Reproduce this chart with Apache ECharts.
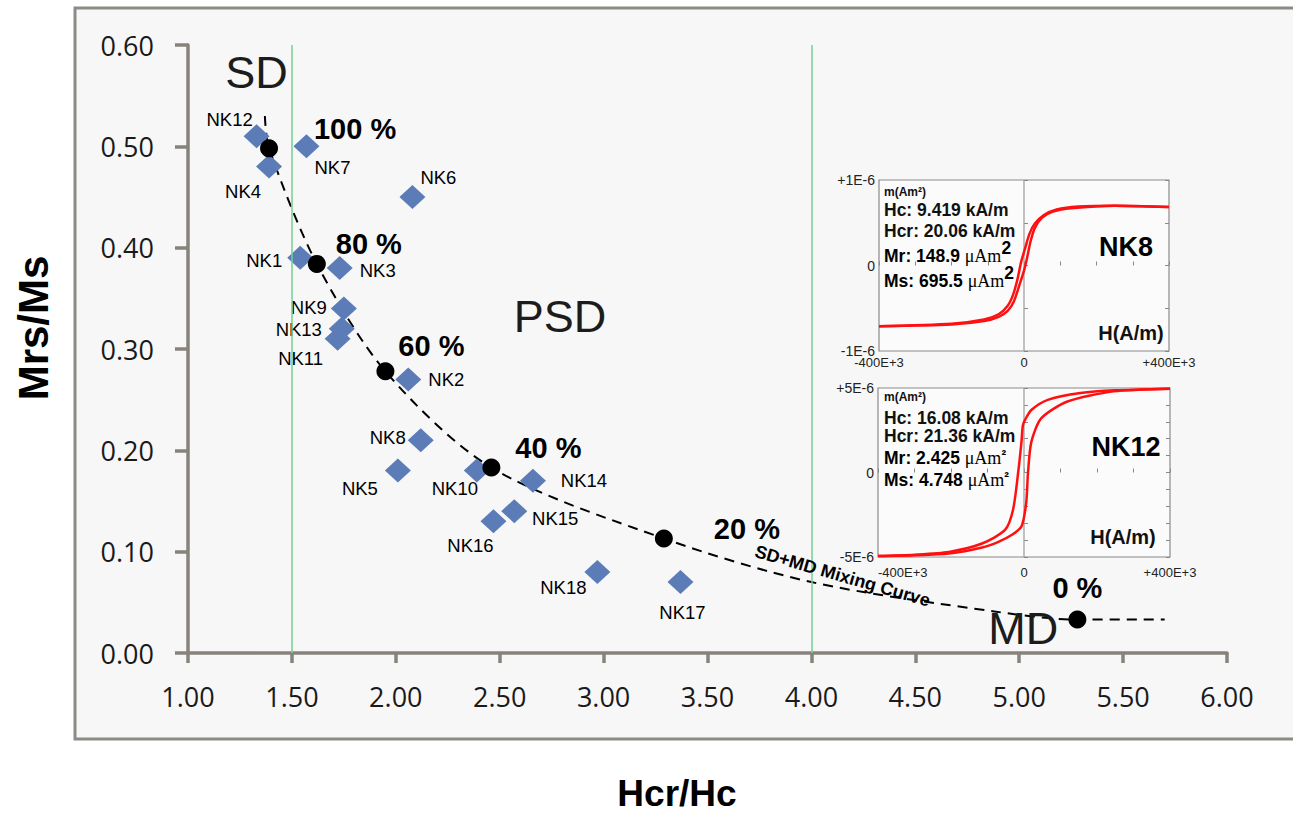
<!DOCTYPE html>
<html><head><meta charset="utf-8">
<script src="https://cdn.jsdelivr.net/npm/echarts@6/dist/echarts.min.js"></script>
<style>html,body{margin:0;padding:0;background:#fff;}#c{width:1293px;height:813px;}</style>
</head><body><div id="c"></div>
<script>
// ---------------- DATA ----------------
const sampleNames = ['NK1','NK2','NK3','NK4','NK5','NK6','NK7','NK8','NK9','NK10','NK11','NK12','NK13','NK14','NK15','NK16','NK17','NK18'];
const sampleHcrHc = [1.54,2.06,1.73,1.39,2.01,2.08,1.57,2.12,1.75,2.39,1.72,1.33,1.74,2.66,2.57,2.47,3.37,2.97];
const sampleMrsMs = [0.39,0.27,0.38,0.48,0.18,0.45,0.50,0.21,0.34,0.18,0.31,0.51,0.32,0.17,0.14,0.13,0.07,0.08];

const mixPercentLabels = ['100 %','80 %','60 %','40 %','20 %','0 %'];
const mixDotHcrHc = [1.39,1.62,1.95,2.46,3.29,5.28];
const mixDotMrsMs = [0.498,0.384,0.278,0.183,0.113,0.033];
const mixCurveHcrHc = [1.37,1.39,1.62,1.95,2.46,3.29,4.00,4.88,5.28,5.70];
const mixCurveMrsMs = [0.53,0.498,0.384,0.278,0.183,0.113,0.070,0.041,0.033,0.033];

const boundaryMrsMs = [0.50, 0.05];
const boundaryHcrHc = [1.5, 4.0];

const regionNames = ['SD','PSD','MD'];
const regionHcrHc = [1.33, 2.79, 5.02];
const regionMrsMs = [0.573, 0.332, 0.024];
const curveCaption = 'SD+MD Mixing Curve';
const curveCaptionAt = [4.15, 0.076];

const xTitle = 'Hcr/Hc';
const yTitle = 'Mrs/Ms';

// NK8 hysteresis loop (H in kA/m, m in 1E-6 Am2)
const nk8UpperH = [400,250,150,90,55,30,15,3,-8,-18,-30,-45,-70,-110,-200,-400];
const nk8UpperM = [0.685,0.70,0.69,0.655,0.59,0.49,0.37,0.20,0.04,-0.16,-0.34,-0.47,-0.57,-0.63,-0.68,-0.71];
const nk8LowerH = [-400,-200,-110,-70,-45,-28,-12,0,8,18,30,50,80,130,250,400];
const nk8LowerM = [-0.71,-0.69,-0.65,-0.60,-0.53,-0.42,-0.22,-0.06,0.08,0.28,0.44,0.56,0.63,0.67,0.70,0.685];
// NK12 hysteresis loop
const nk12UpperH = [400,250,155,65,20,5,-3,-7,-16,-30,-52,-115,-206,-300,-400];
const nk12UpperM = [4.96,4.86,4.70,4.30,3.70,3.20,2.80,1.80,0,-2.20,-3.40,-4.20,-4.70,-4.86,-4.94];
const nk12LowerH = [-400,-296,-206,-115,-70,-34,-7,6,11,20,47,119,245,400];
const nk12LowerM = [-4.94,-4.90,-4.80,-4.44,-4.10,-3.70,-3.20,-1.80,0,1.80,3.20,4.20,4.80,4.96];

const nk8Info = ['m(Am²)','Hc: 9.419 kA/m','Hcr: 20.06 kA/m',['Mr: 148.9 ','μAm','2'],['Ms: 695.5 ','μAm','2'],'NK8','H(A/m)'];
const nk12Info = ['m(Am²)','Hc: 16.08 kA/m','Hcr: 21.36 kA/m',['Mr: 2.425 ','μAm','²'],['Ms: 4.748 ','μAm','²'],'NK12','H(A/m)'];

// ---------------- LAYOUT / STYLE ----------------
const F = 'Liberation Sans, Arial, sans-serif';
const sampleLabelOffsets = {
  NK1:[-36,3],NK2:[38,0],NK3:[38,3],NK4:[-26,25],NK5:[-38,18],NK6:[26,-20],NK7:[26,21],NK8:[-33,-3],
  NK9:[-35,-1],NK10:[-22,18],NK11:[-37,20],NK12:[-27,-17],NK13:[-43,1],NK14:[51,0],NK15:[41,7],
  NK16:[-23,24],NK17:[2,30],NK18:[-34,16]
};
const pctLabelOffsets = [[86,-19],[52,-20],[46,-25],[57,-20],[83,-9],[0,-32]];
const zip = (a,b) => a.map((v,i)=>[v,b[i]]);

const chart = echarts.init(document.getElementById('c'), null, {renderer:'svg'});
const axisCol = '#87827c';

function insetAxes(gi, ymax, yint, xMargin, alignMin) {
  const xl = v => v === -400 ? '-400E+3' : (v === 0 ? '0' : (v === 400 ? '+400E+3' : ''));
  const yl = v => v === ymax ? '+' + ymax + 'E-6' : (v === -ymax ? '-' + ymax + 'E-6' : (v === 0 ? '0' : ''));
  return {
    x: {type:'value', gridIndex:gi, min:-400, max:400, interval:100,
        axisLine:{show:false}, splitLine:{show:false},
        axisTick:{inside:true, length:4, lineStyle:{color:'#888'}},
        axisLabel:{formatter:xl, fontFamily:F, fontSize:13, color:'#222', margin:xMargin, showMinLabel:true, showMaxLabel:true,
                   alignMinLabel: alignMin}},
    y: [{type:'value', gridIndex:gi, min:-ymax, max:ymax, interval:yint,
        axisLine:{show:false}, splitLine:{show:false},
        axisTick:{inside:true, length:4, lineStyle:{color:'#888'}},
        axisLabel:{formatter:yl, fontFamily:F, fontSize:14, color:'#222', margin:4}},
        {type:'value', gridIndex:gi, position:'right', min:-ymax, max:ymax, interval:yint,
        axisLine:{show:false}, splitLine:{show:false},
        axisTick:{inside:true, length:4, lineStyle:{color:'#888'}}, axisLabel:{show:false}}]
  };
}
const ia1 = insetAxes(1, 1, 0.5, 5, 'center');
const ia2 = insetAxes(2, 5, 1, 9, 'left');

function infoGraphics(info, x0, ys, nkCenter, hCenter) {
  const g = [];
  g.push({type:'text', left:x0, top:ys[0]-7, style:{text:info[0], font:'bold 12px ' + F, fill:'#111'}});
  g.push({type:'text', left:x0, top:ys[1]-10, style:{text:info[1], font:'bold 17.5px ' + F, fill:'#111'}});
  g.push({type:'text', left:x0, top:ys[2]-10, style:{text:info[2], font:'bold 17.5px ' + F, fill:'#111'}});
  [3,4].forEach(k => {
    const it = info[k];
    const big = it[2] === '2';
    g.push({type:'text', left:x0, top:ys[k]-(big?18:11), style:{
      text:'{a|' + it[0] + '}{b|' + it[1] + '}{c|' + it[2] + '}',
      rich:{
        a:{fontFamily:F, fontWeight:'bold', fontSize:17.5, color:'#111', verticalAlign:'bottom'},
        b:{fontFamily:'Liberation Serif, Times New Roman, serif', fontSize:18, color:'#111', verticalAlign:'bottom'},
        c:{fontFamily:F, fontWeight:'bold', fontSize: big ? 17.5 : 14, color:'#111', verticalAlign:'bottom', padding: big ? [0,0,8,0] : [0,0,5,0]}
      }}});
  });
  g.push({type:'text', x:nkCenter[0], y:nkCenter[1], style:{text:info[5], font:'bold 27px ' + F, fill:'#000', textAlign:'center', textVerticalAlign:'middle'}});
  g.push({type:'text', x:hCenter[0], y:hCenter[1], style:{text:info[6], font:'bold 20px ' + F, fill:'#111', textAlign:'center', textVerticalAlign:'middle'}});
  return g;
}

const option = {
  backgroundColor:'#ffffff',
  animation:false,
  graphic:[
    {type:'rect', z:-100, silent:true, shape:{x:75, y:8, width:1240, height:731}, style:{fill:'#f7f7f7', stroke:'#8e8a86', lineWidth:3}},
    {type:'text', x:677, y:793, style:{text:xTitle, font:'bold 37px ' + F, fill:'#000', textAlign:'center', textVerticalAlign:'middle'}},
    {type:'text', x:33, y:328, rotation:Math.PI/2, style:{text:yTitle, font:'bold 42px ' + F, fill:'#000', textAlign:'center', textVerticalAlign:'middle'}},
    ...infoGraphics(nk8Info, 884, [193,211,232,257,282], [1126,247], [1131,333]),
    ...infoGraphics(nk12Info, 884, [398,419,437,459,481], [1126,447], [1123,537])
  ],
  grid:[
    {left:188, top:45, width:1039, height:608},
    {left:879, top:180, width:290, height:171, show:true, backgroundColor:'#fbfbfb', borderColor:'#8a8a8a', borderWidth:1.2},
    {left:878, top:388, width:292, height:169, show:true, backgroundColor:'#fbfbfb', borderColor:'#8a8a8a', borderWidth:1.2}
  ],
  xAxis:[
    {type:'value', gridIndex:0, min:1, max:6, interval:0.5,
     axisLine:{lineStyle:{color:axisCol, width:3.5}},
     axisTick:{length:10, lineStyle:{color:axisCol, width:3.5}},
     splitLine:{show:false},
     axisLabel:{formatter:v=>v.toFixed(2), fontFamily:'Open Sans, sans-serif', fontSize:27, color:'#1a1a1a', margin:30}},
    ia1.x, ia2.x
  ],
  yAxis:[
    {type:'value', gridIndex:0, min:0, max:0.6, interval:0.1,
     axisLine:{show:true, lineStyle:{color:axisCol, width:3.5}},
     axisTick:{show:true, length:13, lineStyle:{color:axisCol, width:3.5}},
     splitLine:{show:false},
     axisLabel:{formatter:v=>v.toFixed(2), fontFamily:'Open Sans, sans-serif', fontSize:27, color:'#1a1a1a', margin:34}},
    ia1.y[0], ia1.y[1], ia2.y[0], ia2.y[1]
  ],
  series:[
    {type:'scatter', name:'bounds', xAxisIndex:0, yAxisIndex:0, data:[], z:1,
     markLine:{silent:true, symbol:'none', animation:false, label:{show:false},
       data:[
         [{coord:[1, boundaryMrsMs[0]], lineStyle:{color:'#a29dcb', width:2, type:'solid'}}, {coord:[6.04, boundaryMrsMs[0]]}],
         [{coord:[1, boundaryMrsMs[1]], lineStyle:{color:'#c6bfe0', width:1.5, type:'solid'}}, {coord:[6.04, boundaryMrsMs[1]]}],
         [{coord:[boundaryHcrHc[0], 0], lineStyle:{color:'#74d193', width:1.5, type:'solid'}}, {coord:[boundaryHcrHc[0], 0.6]}],
         [{coord:[boundaryHcrHc[1], 0], lineStyle:{color:'#74d193', width:1.5, type:'solid'}}, {coord:[boundaryHcrHc[1], 0.6]}]
       ]}},
    {type:'line', name:'mixing', xAxisIndex:0, yAxisIndex:0, z:3, smooth:0.3, symbol:'none',
     lineStyle:{color:'#000', width:2, type:[10,7]}, data:zip(mixCurveHcrHc, mixCurveMrsMs)},
    {type:'scatter', name:'samples', xAxisIndex:0, yAxisIndex:0, z:4, symbol:'diamond', symbolSize:[26,24],
     itemStyle:{color:'#5b7cb7', opacity:1},
     data: sampleNames.map((n,i)=>({value:[sampleHcrHc[i], sampleMrsMs[i]], name:n,
        label:{show:true, position:'inside', offset:sampleLabelOffsets[n], formatter:n, fontFamily:F, fontSize:18.5, color:'#000'}}))},
    {type:'scatter', name:'mixdots', xAxisIndex:0, yAxisIndex:0, z:5, symbol:'circle', symbolSize:18,
     itemStyle:{color:'#000', opacity:1},
     data: mixPercentLabels.map((t,i)=>({value:[mixDotHcrHc[i], mixDotMrsMs[i]],
        label:{show:true, position:'inside', offset:pctLabelOffsets[i], formatter:t, fontFamily:F, fontWeight:'bold', fontSize:29, color:'#000'}}))},
    {type:'scatter', name:'regions', xAxisIndex:0, yAxisIndex:0, z:6, symbolSize:0, itemStyle:{opacity:1},
     data: regionNames.map((t,i)=>({value:[regionHcrHc[i], regionMrsMs[i]],
        label:{show:true, position:'inside', formatter:t, fontFamily:F, fontSize:45, color:'#1c1c1c'}})).concat([
        {value:curveCaptionAt, label:{show:true, position:'inside', rotate:-16, formatter:curveCaption, fontFamily:F, fontWeight:'bold', fontSize:18, color:'#000'}}])},
    {type:'line', xAxisIndex:1, yAxisIndex:1, z:5, smooth:0.25, symbol:'none', lineStyle:{color:'#ff1010', width:2.5}, data:zip(nk8UpperH, nk8UpperM)},
    {type:'line', xAxisIndex:1, yAxisIndex:1, z:5, smooth:0.25, symbol:'none', lineStyle:{color:'#ff1010', width:2.5}, data:zip(nk8LowerH, nk8LowerM)},
    {type:'line', xAxisIndex:1, yAxisIndex:1, z:4, symbol:'none', lineStyle:{color:'#9a9a9a', width:1.2}, data:[[0,-1],[0,1]]},
    {type:'line', xAxisIndex:2, yAxisIndex:3, z:5, smooth:0.25, symbol:'none', lineStyle:{color:'#ff1010', width:2.5}, data:zip(nk12UpperH, nk12UpperM)},
    {type:'line', xAxisIndex:2, yAxisIndex:3, z:5, smooth:0.25, symbol:'none', lineStyle:{color:'#ff1010', width:2.5}, data:zip(nk12LowerH, nk12LowerM)},
    {type:'line', xAxisIndex:2, yAxisIndex:3, z:4, symbol:'none', lineStyle:{color:'#9a9a9a', width:1.2}, data:[[0,-5],[0,5]]}
  ]
};
chart.setOption(option);
</script></body></html>
